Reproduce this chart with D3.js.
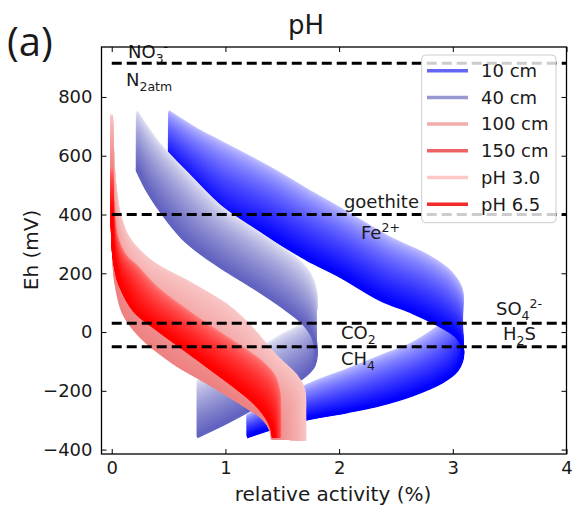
<!DOCTYPE html>
<html><head><meta charset="utf-8">
<script src="https://cdn.jsdelivr.net/npm/d3@7"></script>
<style>body{margin:0;background:#fff}</style>
</head><body><svg id="c" width="572" height="508"></svg>
<script>
// ---------------- data ----------------
const xTicks = [0, 1, 2, 3, 4];
const yTicks = [-400, -200, 0, 200, 400, 600, 800];
const legendLabels = ["10 cm", "40 cm", "100 cm", "150 cm", "pH 3.0", "pH 6.5"];
const redoxLevels = [915, 400, 30, -50];

// each band: curve at pH 3.0 and curve at pH 6.5, [relative activity %, Eh mV]
const d10_pH3 = [[0.50,751],[0.75,690],[0.98,643],[1.42,553],[1.72,484],[2.01,420],[2.48,314],[2.77,262],[2.98,205],[3.08,140],[3.05,75],[2.88,20],[2.65,-37],[2.36,-83],[2.07,-128],[1.77,-172],[1.48,-225],[1.19,-285]];
const d10_pH65 = [[0.50,581],[0.75,484],[0.98,400],[1.42,314],[1.72,246],[2.01,189],[2.36,110],[2.65,65],[2.88,22],[3.04,-20],[3.09,-70],[3.04,-130],[2.90,-172],[2.65,-214],[2.36,-248],[2.07,-272],[1.62,-305],[1.19,-357]];

const d40_pH3 = [[0.22,751],[0.41,645],[0.69,530],[0.98,420],[1.30,337],[1.50,285],[1.64,245],[1.74,200],[1.79,150],[1.80,100],[1.77,55],[1.65,20],[1.50,-10],[1.35,-45],[1.20,-80],[1.05,-113],[0.90,-142],[0.75,-168]];
const d40_pH65 = [[0.22,552],[0.32,475],[0.45,400],[0.62,320],[0.80,262],[1.00,210],[1.25,150],[1.50,85],[1.68,30],[1.77,-20],[1.80,-70],[1.78,-115],[1.70,-150],[1.55,-190],[1.40,-228],[1.20,-270],[0.98,-315],[0.75,-357]];

const d100_pH3 = [[0.00,740],[0.01,620],[0.03,500],[0.07,400],[0.15,320],[0.35,240],[0.70,165],[1.00,95],[1.19,31],[1.45,-83],[1.63,-151],[1.69,-195],[1.70,-280],[1.70,-370]];
const d100_pH65 = [[0.00,550],[0.003,450],[0.008,350],[0.015,260],[0.03,178],[0.10,65],[0.25,-15],[0.54,-105],[0.84,-173],[1.13,-242],[1.30,-285],[1.37,-315],[1.40,-340],[1.41,-365]];

const d150_pH3 = [[0.00,560],[0.01,450],[0.04,330],[0.12,260],[0.22,223],[0.40,150],[0.69,65],[1.04,-26],[1.33,-105],[1.43,-150],[1.47,-200],[1.48,-280],[1.48,-360]];
const d150_pH65 = [[0.00,400],[0.005,330],[0.015,260],[0.04,200],[0.07,160],[0.20,70],[0.40,8],[0.84,-117],[1.22,-230],[1.33,-275],[1.38,-305],[1.41,-335],[1.42,-360]];

// ---------------- styles ----------------
const legendColors = ["#6464f5", "#9898d0", "#f2aeae", "#ee6464", "#fcc8c8", "#f42a2a"];
const bandColors = [["#c4c4ff", "#0000ff"], ["#e6e6f6", "#6262c0"], ["#f9c8c8", "#ee8282"], ["#ff8484", "#ff0000"]];
const bandGamma = [0.7, 0.7, 0.8, 0.6];
const FONT = "DejaVu Sans";

const svg = d3.select("#c");
const L = 101.5, R = 566.5, T = 47, B = 454;
const x = d3.scaleLinear().domain([-0.09, 4.0]).range([L, R]);
const y = d3.scaleLinear().domain([-415, 970]).range([B, T]);

svg.append("defs").append("clipPath").attr("id", "clip")
  .append("rect").attr("x", L).attr("y", T).attr("width", R - L).attr("height", B - T);

const lineGen = d3.line().x(d => x(d[0])).y(d => y(d[1])).curve(d3.curveCatmullRom.alpha(0.5));

function band(g, lo, hi, cols, gamma) {
  const n = 80;
  const ci = d3.interpolateRgb(cols[0], cols[1]);
  for (let k = 0; k <= n; k++) {
    const t = k / n;
    const pts = lo.map((p, i) => [p[0] + (hi[i][0] - p[0]) * t, p[1] + (hi[i][1] - p[1]) * t]);
    g.append("path").attr("d", lineGen(pts)).attr("fill", "none")
      .attr("stroke", ci(Math.pow(t, gamma))).attr("stroke-width", 2.6);
  }
}

const gb = svg.append("g").attr("clip-path", "url(#clip)");
band(gb.append("g"), d10_pH3, d10_pH65, bandColors[0], bandGamma[0]);
band(gb.append("g"), d40_pH3, d40_pH65, bandColors[1], bandGamma[1]);
band(gb.append("g"), d100_pH3, d100_pH65, bandColors[2], bandGamma[2]);
band(gb.append("g"), d150_pH3, d150_pH65, bandColors[3], bandGamma[3]);

// dashed redox lines
svg.append("g").selectAll("line").data(redoxLevels).join("line")
  .attr("x1", x(0)).attr("x2", x(4)).attr("y1", d => y(d)).attr("y2", d => y(d))
  .attr("stroke", "#000").attr("stroke-width", 3).attr("stroke-dasharray", "10,5");

// annotations
const ga = svg.append("g").attr("font-family", FONT).attr("font-size", 18).attr("fill", "#1a1a1a");
function rich(x0, y0, parts, anchor) {
  const t = ga.append("text").attr("x", x0).attr("y", y0).attr("text-anchor", anchor || "start");
  let cur = 0;
  parts.forEach(([s, k]) => {
    const off = k === 1 ? 5 : k === -1 ? -7 : 0;
    const ts = t.append("tspan").attr("dy", off - cur).text(s);
    if (k) ts.attr("font-size", 12.5);
    cur = off;
  });
}
rich(128, 58, [["NO", 0], ["3", 1], ["-", -1]]);
rich(126, 86, [["N", 0], ["2atm", 1]]);
rich(419, 208, [["goethite", 0]], "end");
rich(361, 239, [["Fe", 0], ["2+", -1]]);
rich(496, 315, [["SO", 0], ["4", 1], ["2-", -1]]);
rich(503, 340, [["H", 0], ["2", 1], ["S", 0]]);
rich(341, 339, [["CO", 0], ["2", 1]]);
rich(341, 365, [["CH", 0], ["4", 1]]);

// axes
function styleAxis(g) {
  g.select(".domain").remove();
  g.selectAll(".tick line").attr("stroke", "#000").attr("stroke-width", 1);
  g.selectAll(".tick text").attr("font-family", FONT).attr("font-size", 18).attr("fill", "#1a1a1a");
}
svg.append("g").attr("transform", `translate(0,${B})`)
  .call(d3.axisBottom(x).tickValues(xTicks).tickFormat(d3.format("d")).tickSize(-5).tickPadding(7)).call(styleAxis);
svg.append("g").attr("transform", `translate(${L},0)`)
  .call(d3.axisLeft(y).tickValues(yTicks).tickFormat(d3.format("d")).tickSize(-5).tickPadding(9)).call(styleAxis);
svg.append("g").attr("transform", `translate(0,${T})`)
  .call(d3.axisTop(x).tickValues(xTicks).tickSize(-5).tickFormat("")).call(styleAxis);
svg.append("g").attr("transform", `translate(${R},0)`)
  .call(d3.axisRight(y).tickValues(yTicks).tickSize(-5).tickFormat("")).call(styleAxis);
svg.append("rect").attr("x", L).attr("y", T).attr("width", R - L).attr("height", B - T)
  .attr("fill", "none").attr("stroke", "#000").attr("stroke-width", 1.3);

// titles
svg.append("text").attr("x", 306).attr("y", 34).attr("text-anchor", "middle")
  .attr("font-family", FONT).attr("font-size", 26).attr("fill", "#1a1a1a").text("pH");
svg.append("text").attr("x", 7).attr("y", 56)
  .attr("font-family", "Open Sans").attr("font-size", 40).attr("fill", "#1a1a1a").text("(a)");
svg.append("text").attr("x", 333).attr("y", 501).attr("text-anchor", "middle")
  .attr("font-family", FONT).attr("font-size", 20).attr("fill", "#1a1a1a").text("relative activity (%)");
svg.append("text").attr("transform", `translate(38,250) rotate(-90)`).attr("text-anchor", "middle")
  .attr("font-family", FONT).attr("font-size", 20).attr("fill", "#1a1a1a").text("Eh (mV)");

// legend
const lg = svg.append("g");
lg.append("rect").attr("x", 421.7).attr("y", 55).attr("width", 134.3).attr("height", 167.7)
  .attr("rx", 4).attr("fill", "#fff").attr("fill-opacity", 0.8).attr("stroke", "#cccccc").attr("stroke-width", 1);
const rows = lg.selectAll("g.row").data(legendLabels).join("g").attr("class", "row")
  .attr("transform", (d, i) => `translate(0,${70.7 + i * 26.7})`);
rows.append("line").attr("x1", 427).attr("x2", 468).attr("stroke", (d, i) => legendColors[i]).attr("stroke-width", 3.5);
rows.append("text").attr("x", 481).attr("dy", "0.35em").attr("font-family", FONT).attr("font-size", 18)
  .attr("fill", "#1a1a1a").text(d => d);
</script>
</body></html>
